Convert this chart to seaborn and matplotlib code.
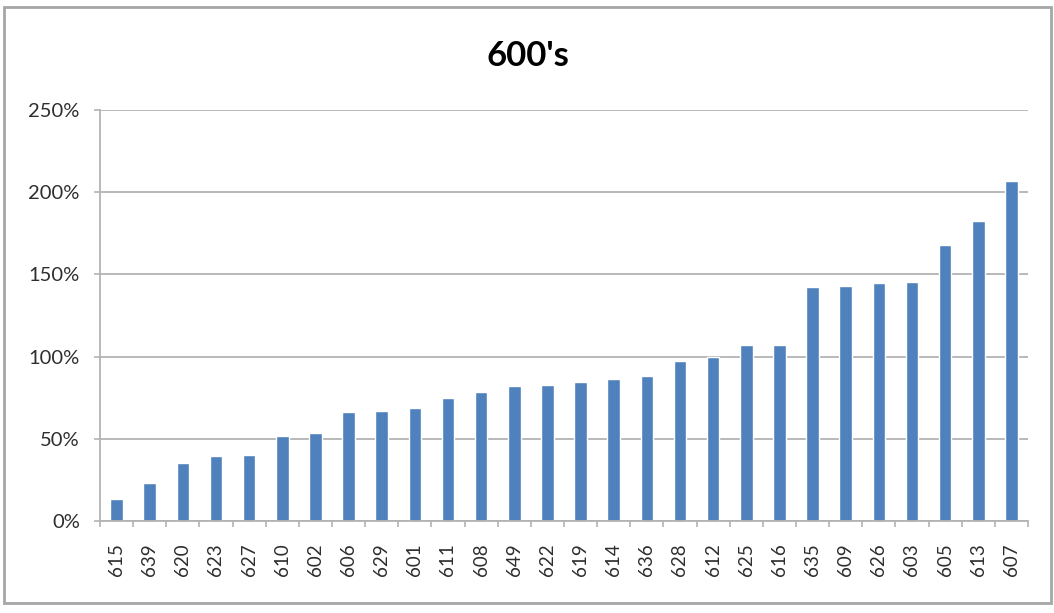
import matplotlib
matplotlib.use("Agg")
import matplotlib.pyplot as plt
import matplotlib.ticker as mticker
from matplotlib.patches import Rectangle
import numpy as np
import pandas as pd
import seaborn as sns

# Store numbers, sorted by percentage
stores = ["615", "639", "620", "623", "627", "610", "602", "606", "629", "601",
          "611", "608", "649", "622", "619", "614", "636", "628", "612", "625",
          "616", "635", "609", "626", "603", "605", "613", "607"]
pct = [13.4, 23.3, 35.5, 39.5, 40.1, 51.7, 53.7, 66.5, 67.1, 68.5,
       74.8, 78.5, 81.9, 82.5, 84.5, 86.2, 88.2, 97.3, 100.0, 107.1,
       107.1, 142.3, 143.1, 144.6, 145.4, 167.9, 182.7, 206.8]
y_ticks = [0, 50, 100, 150, 200, 250]
title = "600's"

df = pd.DataFrame({"store": stores, "pct": pct})

sns.set_theme(style="white")
plt.rcParams["font.family"] = ["Lato", "DejaVu Sans"]

fig = plt.figure(figsize=(10.54, 6.13), dpi=100)
ax = fig.add_axes([100 / 1054, 1 - 521 / 613, 928 / 1054, 411 / 613])

sns.barplot(data=df, x="store", y="pct", order=stores, color="#4F81BD",
            saturation=1, width=0.38, ax=ax)

grid_c = "#B3B3B3"
ax.set_ylim(0, 250)
ax.set_xlim(-0.5, len(stores) - 0.5)
ax.set_yticks(y_ticks)
ax.yaxis.set_major_formatter(mticker.FuncFormatter(lambda v, p: f"{v:.0f}%"))
ax.yaxis.grid(True, color=grid_c, linewidth=1.3)
ax.set_axisbelow(True)

# category ticks sit between bars
ax.set_xticks(np.arange(-0.5, len(stores)), minor=True)
ax.tick_params(axis="x", which="major", length=0, pad=16, labelrotation=90,
               labelsize=13.5, labelcolor="#2E2E2E")
ax.tick_params(axis="x", which="minor", length=4, width=1.2, color=grid_c,
               direction="out", bottom=True)
ax.tick_params(axis="y", which="major", length=4.5, width=1.2, color=grid_c,
               direction="out", left=True, pad=10, labelsize=14.5,
               labelcolor="#2E2E2E")

for s in ["top", "right"]:
    ax.spines[s].set_visible(False)
for s in ["left", "bottom"]:
    ax.spines[s].set_color(grid_c)
    ax.spines[s].set_linewidth(1.3)

ax.set_xlabel("")
ax.set_ylabel("")

fig.text(528 / 1054, 1 - 56 / 613, title, ha="center", va="center",
         fontsize=25, fontweight="bold", color="#000000")

# chart frame
fig.patches.append(Rectangle((4 / 1054, 10 / 613), 1047 / 1054, 596 / 613,
                             transform=fig.transFigure, fill=False,
                             edgecolor="#A6A6A6", linewidth=2))

fig.savefig("out.png", dpi=100)
